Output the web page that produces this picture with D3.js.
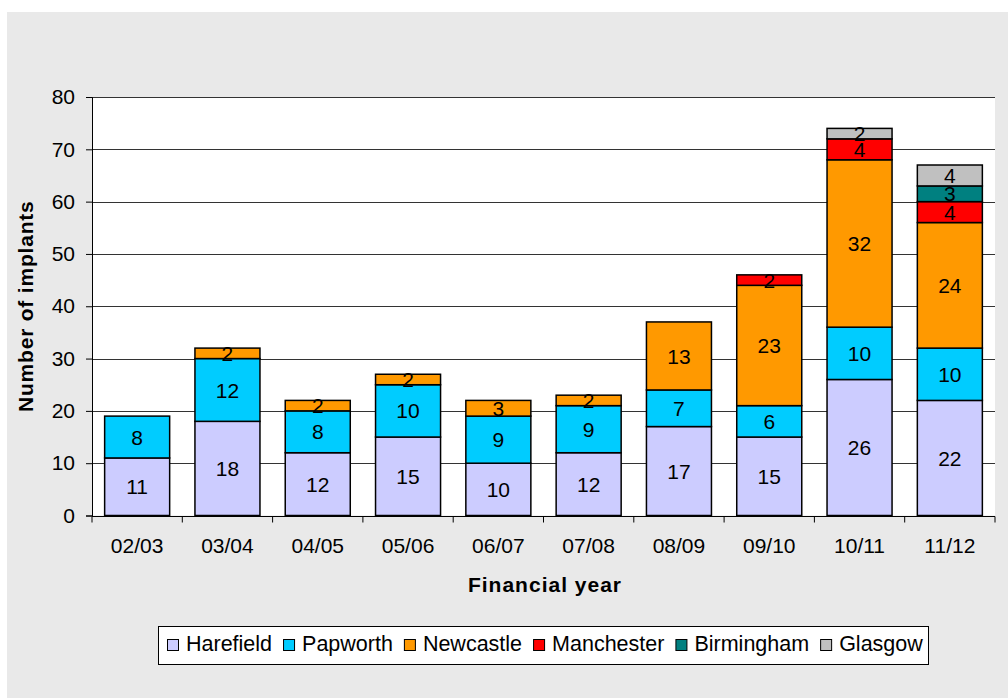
<!DOCTYPE html>
<html>
<head>
<meta charset="utf-8">
<script src="https://cdn.jsdelivr.net/npm/d3@7"></script>
<style>
  body { margin: 0; background: #fff; }
  svg { display: block; font-family: "Liberation Sans", Arial, sans-serif; }
</style>
</head>
<body>
<div id="chart"></div>
<script>
const years = ["02/03", "03/04", "04/05", "05/06", "06/07", "07/08", "08/09", "09/10", "10/11", "11/12"]
const centres = ["Harefield", "Papworth", "Newcastle", "Manchester", "Birmingham", "Glasgow"]
const harefield = [11, 18, 12, 15, 10, 12, 17, 15, 26, 22]
const papworth = [8, 12, 8, 10, 9, 9, 7, 6, 10, 10]
const newcastle = [0, 2, 2, 2, 3, 2, 13, 23, 32, 24]
const manchester = [0, 0, 0, 0, 0, 0, 0, 2, 4, 4]
const birmingham = [0, 0, 0, 0, 0, 0, 0, 0, 0, 3]
const glasgow = [0, 0, 0, 0, 0, 0, 0, 0, 2, 4]
const yTicks = [0, 10, 20, 30, 40, 50, 60, 70, 80]

const colors = ["#ccccff", "#00ccff", "#ff9900", "#ff0000", "#008080", "#c0c0c0"]
const series = [harefield, papworth, newcastle, manchester, birmingham, glasgow]

const width = 1008, height = 698
const margin = {top: 97, right: 13, bottom: 183, left: 92}

const rows = years.map((yr, i) => {
  const r = {year: yr}
  centres.forEach((c, k) => r[c] = series[k][i])
  return r
})
const stacked = d3.stack().keys(centres)(rows)

const svg = d3.select("#chart").append("svg")
  .attr("width", width)
  .attr("height", height)

svg.append("rect")
  .attr("x", 7).attr("y", 12)
  .attr("width", width - 7).attr("height", height - 12)
  .attr("fill", "#e9e9e9")

const x = d3.scaleBand()
  .domain(years)
  .range([margin.left, width - margin.right])
  .paddingInner(0.28)
  .paddingOuter(0.14)

const y = d3.scaleLinear()
  .domain([0, 80])
  .range([height - margin.bottom + 0.5, margin.top])

svg.append("rect")
  .attr("x", margin.left).attr("y", margin.top)
  .attr("width", width - margin.right - margin.left)
  .attr("height", y(0) - margin.top)
  .attr("fill", "#fff")

// grid lines
svg.append("g")
  .selectAll("line")
  .data(yTicks.slice(1))
  .join("line")
  .attr("x1", margin.left).attr("x2", width - margin.right)
  .attr("y1", d => Math.round(y(d)) + 0.5).attr("y2", d => Math.round(y(d)) + 0.5)
  .attr("stroke", "#333")
  .attr("stroke-width", 1)

// y axis
const yAxis = svg.append("g")
  .attr("transform", `translate(${margin.left}, 0)`)
  .call(d3.axisLeft(y).tickValues(yTicks).tickSize(6).tickPadding(11))
  .attr("font-family", null)
yAxis.selectAll("text").attr("font-size", 21).attr("fill", "#000")
yAxis.selectAll("line, path").attr("stroke", "#000")

// x axis, ticks between categories
const xAxisY = Math.round(y(0)) + 0.5
svg.append("line")
  .attr("x1", margin.left).attr("x2", width - margin.right)
  .attr("y1", xAxisY).attr("y2", xAxisY)
  .attr("stroke", "#000")
const step = x.step()
svg.append("g")
  .selectAll("line")
  .data(d3.range(years.length + 1))
  .join("line")
  .attr("x1", i => margin.left + i * step).attr("x2", i => margin.left + i * step)
  .attr("y1", xAxisY).attr("y2", xAxisY + 6)
  .attr("stroke", "#000")
svg.append("g")
  .selectAll("text")
  .data(years)
  .join("text")
  .attr("x", d => x(d) + x.bandwidth() / 2)
  .attr("y", 553)
  .attr("text-anchor", "middle")
  .attr("font-size", 21)
  .text(d => d)

// bars
const layer = svg.append("g")
  .selectAll("g")
  .data(stacked)
  .join("g")
  .attr("fill", (d, i) => colors[i])

layer.selectAll("rect")
  .data(d => d.filter(v => v[1] > v[0]))
  .join("rect")
  .attr("x", d => x(d.data.year))
  .attr("y", d => y(d[1]))
  .attr("width", x.bandwidth())
  .attr("height", d => y(d[0]) - y(d[1]))
  .attr("stroke", "#000")
  .attr("stroke-width", 1.5)

layer.selectAll("text")
  .data(d => d.filter(v => v[1] > v[0]))
  .join("text")
  .attr("x", d => x(d.data.year) + x.bandwidth() / 2)
  .attr("y", d => (y(d[0]) + y(d[1])) / 2)
  .attr("dy", "0.36em")
  .attr("text-anchor", "middle")
  .attr("font-size", 21)
  .attr("fill", "#000")
  .text(d => d[1] - d[0])

// axis titles
svg.append("text")
  .attr("transform", `translate(33, ${(y(0) + margin.top) / 2}) rotate(-90)`)
  .attr("text-anchor", "middle")
  .attr("font-size", 21)
  .attr("font-weight", "bold")
  .attr("letter-spacing", 0.8)
  .text("Number of implants")

svg.append("text")
  .attr("x", 545)
  .attr("y", 592)
  .attr("text-anchor", "middle")
  .attr("font-size", 21)
  .attr("font-weight", "bold")
  .attr("letter-spacing", 1)
  .text("Financial year")

// legend
const legend = svg.append("g").attr("transform", "translate(158, 626)")
legend.append("rect")
  .attr("x", 0.5).attr("y", 0.5)
  .attr("width", 770).attr("height", 38)
  .attr("fill", "#fff")
  .attr("stroke", "#000")
let lx = 9
centres.forEach((c, i) => {
  const g = legend.append("g").attr("transform", `translate(${lx}, 0)`)
  g.append("rect")
    .attr("x", 0.5).attr("y", 13.5)
    .attr("width", 11).attr("height", 11)
    .attr("fill", colors[i])
    .attr("stroke", "#000")
  const t = g.append("text")
    .attr("x", 19).attr("y", 25)
    .attr("font-size", 21.5)
    .text(c)
  lx += 19 + t.node().getComputedTextLength() + 11
})
</script>
</body>
</html>
